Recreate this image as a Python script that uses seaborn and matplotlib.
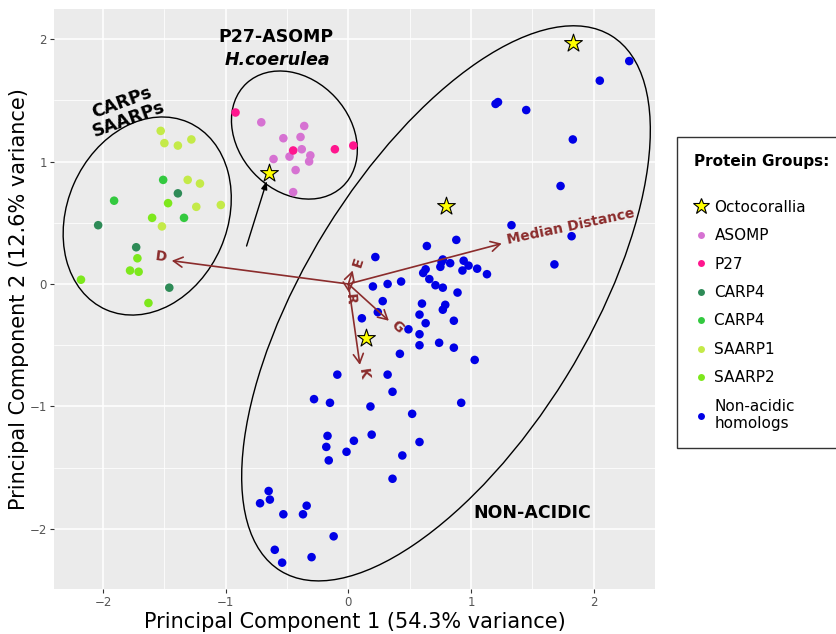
import numpy as np
import pandas as pd
import seaborn as sns
import matplotlib.pyplot as plt
from matplotlib.patches import Ellipse
from matplotlib.lines import Line2D

# ---------------- data ----------------
saarp1_x = [-1.53, -1.50, -1.39, -1.28, -1.31, -1.21, -1.24, -1.04, -1.52]
saarp1_y = [1.25, 1.15, 1.13, 1.18, 0.85, 0.82, 0.63, 0.645, 0.47]
saarp2_x = [-1.60, -1.47, -1.72, -1.78, -1.71, -2.18, -1.63]
saarp2_y = [0.54, 0.66, 0.21, 0.11, 0.10, 0.035, -0.155]
carp4b_x = [-1.91, -1.51, -1.34]
carp4b_y = [0.68, 0.85, 0.54]
carp4a_x = [-1.39, -2.04, -1.73, -1.46]
carp4a_y = [0.74, 0.48, 0.30, -0.03]
p27_x = [-0.92, -0.45, -0.11, 0.04]
p27_y = [1.40, 1.09, 1.10, 1.13]
asomp_x = [-0.71, -0.36, -0.53, -0.39, -0.38, -0.48, -0.31, -0.32, -0.61, -0.43, -0.45]
asomp_y = [1.32, 1.29, 1.19, 1.20, 1.10, 1.04, 1.05, 1.00, 1.02, 0.93, 0.75]
octo_x = [-0.65, 1.83, 0.80, 0.14]
octo_y = [0.91, 1.97, 0.64, -0.44]
nonacid_x = [2.29, 2.05, 1.20, 1.22, 1.45, 1.83, 1.73, 1.33, 0.88, 1.82, 1.68,
             0.22, 0.64, 0.77, 0.83, 0.94, 0.98, 1.05, 1.13, 0.93, 0.75, 0.76, 0.63, 0.61,
             0.66, 0.71, 0.77, 0.89, 0.43, 0.32, 0.20, 0.28, 0.24, 0.11, 0.60, 0.79, 0.77,
             0.58, 0.86, 0.63, 0.49, 0.58, 0.58, 0.74, 0.86, 0.42, 1.03, 0.32, 0.36,
             -0.09, -0.28, -0.15, 0.18, 0.52, 0.92, -0.17, -0.18, -0.16, 0.045, -0.015,
             0.19, 0.58, 0.44, 0.36,
             -0.65, -0.64, -0.72, -0.53, -0.34, -0.37, -0.12, -0.60, -0.54, -0.30]
nonacid_y = [1.82, 1.66, 1.47, 1.485, 1.42, 1.18, 0.80, 0.48, 0.36, 0.39, 0.16,
             0.22, 0.31, 0.20, 0.17, 0.19, 0.15, 0.125, 0.08, 0.11, 0.14, 0.18, 0.12, 0.09,
             0.04, -0.01, -0.03, -0.07, 0.02, 0.00, -0.02, -0.14, -0.23, -0.28, -0.16, -0.17, -0.21,
             -0.25, -0.30, -0.32, -0.37, -0.41, -0.50, -0.48, -0.52, -0.57, -0.62, -0.74, -0.88,
             -0.74, -0.94, -0.97, -1.00, -1.06, -0.97, -1.24, -1.33, -1.44, -1.28, -1.37,
             -1.23, -1.29, -1.40, -1.59,
             -1.69, -1.76, -1.79, -1.88, -1.81, -1.88, -2.06, -2.17, -2.275, -2.23]

# loading vectors (arrows)
load_names = ["D", "Median Distance", "E", "R", "G", "K"]
load_x = [-1.44, 1.25, 0.035, 0.005, 0.33, 0.094]
load_y = [0.19, 0.33, 0.11, -0.07, -0.30, -0.66]
lab_x = [-1.53, 1.81, 0.08, 0.012, 0.40, 0.12]
lab_y = [0.22, 0.47, 0.18, -0.12, -0.35, -0.73]
lab_rot = [-7.5, 12, 72, -85, -42, -82]

# group ellipses: centre x, centre y, width, height, angle
ell_cx = [-1.64, -0.44, 0.796]
ell_cy = [0.555, 1.216, -0.158]
ell_w = [1.67, 1.15, 5.134]
ell_h = [1.306, 0.908, 2.298]
ell_ang = [66.4, -47.3, 58.3]

legend_labels = ["Octocorallia", "ASOMP", "P27", "CARP4", "CARP4 ", "SAARP1", "SAARP2",
                 "Non-acidic\nhomologs"]
colors = {"ASOMP": "#D672D2", "P27": "#FF168E", "CARP4": "#2E8B57", "CARP4 ": "#33C93F",
          "SAARP1": "#C4EA48", "SAARP2": "#7DE81C", "Non-acidic\nhomologs": "#0000E6"}

groups = [("ASOMP", asomp_x, asomp_y), ("P27", p27_x, p27_y), ("CARP4", carp4a_x, carp4a_y),
          ("CARP4 ", carp4b_x, carp4b_y), ("SAARP1", saarp1_x, saarp1_y),
          ("SAARP2", saarp2_x, saarp2_y), ("Non-acidic\nhomologs", nonacid_x, nonacid_y)]
df = pd.concat([pd.DataFrame({"PC1": gx, "PC2": gy, "group": g}) for g, gx, gy in groups],
               ignore_index=True)
df_star = pd.DataFrame({"PC1": octo_x, "PC2": octo_y, "group": "Octocorallia"})

# ---------------- style ----------------
sns.set_theme(style="darkgrid")
plt.rcParams["font.family"] = ["DejaVu Sans"]
plt.rcParams["text.color"] = "black"
plt.rcParams["axes.labelcolor"] = "black"

fig = plt.figure(figsize=(8.36, 6.34), dpi=100)
ax = fig.add_axes([54 / 836, 1 - 589 / 634, (655 - 54) / 836, (589 - 9) / 634])
ax.set_facecolor("#EBEBEB")
for s in ax.spines.values():
    s.set_visible(False)

ax.set_xlim(-2.40, 2.50)
ax.set_ylim(-2.49, 2.245)
ax.set_xticks([-2, -1, 0, 1, 2])
ax.set_yticks([-2, -1, 0, 1, 2])
ax.set_xticks([-1.5, -0.5, 0.5, 1.5], minor=True)
ax.set_yticks([-1.5, -0.5, 0.5, 1.5], minor=True)
ax.grid(True, which="major", color="white", linewidth=1.1)
ax.grid(True, which="minor", color="white", linewidth=0.55)
ax.set_axisbelow(True)
ax.tick_params(which="major", length=3, width=0.8, color="#333333", labelcolor="#555555",
               labelsize=8.5, pad=2, bottom=True, left=True)
ax.tick_params(which="minor", length=0)

# ellipses
for cx, cy, w, h, a in zip(ell_cx, ell_cy, ell_w, ell_h, ell_ang):
    ax.add_patch(Ellipse((cx, cy), w, h, angle=a, fill=False, edgecolor="black",
                         linewidth=1.0, zorder=2))

# points
sns.scatterplot(data=df, x="PC1", y="PC2", hue="group", palette=colors, s=38,
                linewidth=0, legend=False, ax=ax, zorder=3)

# loading arrows
arrow_col = "#8B2C2C"
for nm, x, y, lx, ly, r in zip(load_names, load_x, load_y, lab_x, lab_y, lab_rot):
    ax.annotate("", xy=(x, y), xytext=(0, 0),
                arrowprops=dict(arrowstyle="->,head_length=0.55,head_width=0.3",
                                color=arrow_col, lw=1.2, shrinkA=0, shrinkB=0), zorder=4)
    ax.text(lx, ly, nm, color=arrow_col, fontsize=10, fontweight="bold", rotation=r,
            ha="center", va="center", rotation_mode="anchor", zorder=4)

# pointer to H. coerulea star
ax.annotate("", xy=(-0.665, 0.84), xytext=(-0.83, 0.31),
            arrowprops=dict(arrowstyle="-|>,head_length=0.4,head_width=0.15",
                            color="black", lw=1.0, shrinkA=0, shrinkB=0), zorder=4)

# stars
sns.scatterplot(data=df_star, x="PC1", y="PC2", marker="*", s=180, color="#FFFF00",
                edgecolor="black", linewidth=0.8, legend=False, ax=ax, zorder=5)

# group annotations
ax.text(-1.82, 1.41, "CARPs\nSAARPs", fontsize=12.5, fontweight="bold", rotation=20,
        ha="center", va="center", linespacing=1.0, rotation_mode="anchor", color="black")
ax.text(-0.59, 2.02, "P27-ASOMP", fontsize=12.5, fontweight="bold", ha="center", va="center",
        color="black")
ax.text(-0.58, 1.83, "H.coerulea", fontsize=12.5, fontweight="bold", style="italic",
        ha="center", va="center", color="black")
ax.text(1.50, -1.87, "NON-ACIDIC", fontsize=12.5, fontweight="bold", ha="center", va="center",
        color="black")

ax.set_xlabel("Principal Component 1 (54.3% variance)", fontsize=15, color="black", va="center")
ax.set_ylabel("Principal Component 2 (12.6% variance)", fontsize=15, color="black", va="center")
ax.xaxis.set_label_coords(0.5, (589 - 622) / 580)
ax.yaxis.set_label_coords((19 - 54) / 601, 0.5)

# legend
handles = [Line2D([], [], linestyle="none", marker="*", markersize=12,
                  markerfacecolor="#FFFF00", markeredgecolor="black", markeredgewidth=0.8)]
for lab in legend_labels[1:]:
    handles.append(Line2D([], [], linestyle="none", marker="o", markersize=5,
                          markerfacecolor=colors[lab], markeredgewidth=0))
leg = fig.legend(handles, legend_labels, loc="upper left",
                 bbox_to_anchor=(677 / 836, 1 - 137 / 634), bbox_transform=fig.transFigure,
                 title="Protein Groups:\n", title_fontproperties={"weight": "bold", "size": 11},
                 fontsize=11, frameon=True, fancybox=False, edgecolor="#333333",
                 facecolor="white", framealpha=1, alignment="left", labelspacing=0.88,
                 handlelength=1.0, handletextpad=0.35, borderpad=1.1, borderaxespad=0)
leg.get_frame().set_linewidth(1.0)
for t in leg.get_texts():
    t.set_color("black")
leg.get_title().set_color("black")

fig.savefig("out.png", dpi=100)
